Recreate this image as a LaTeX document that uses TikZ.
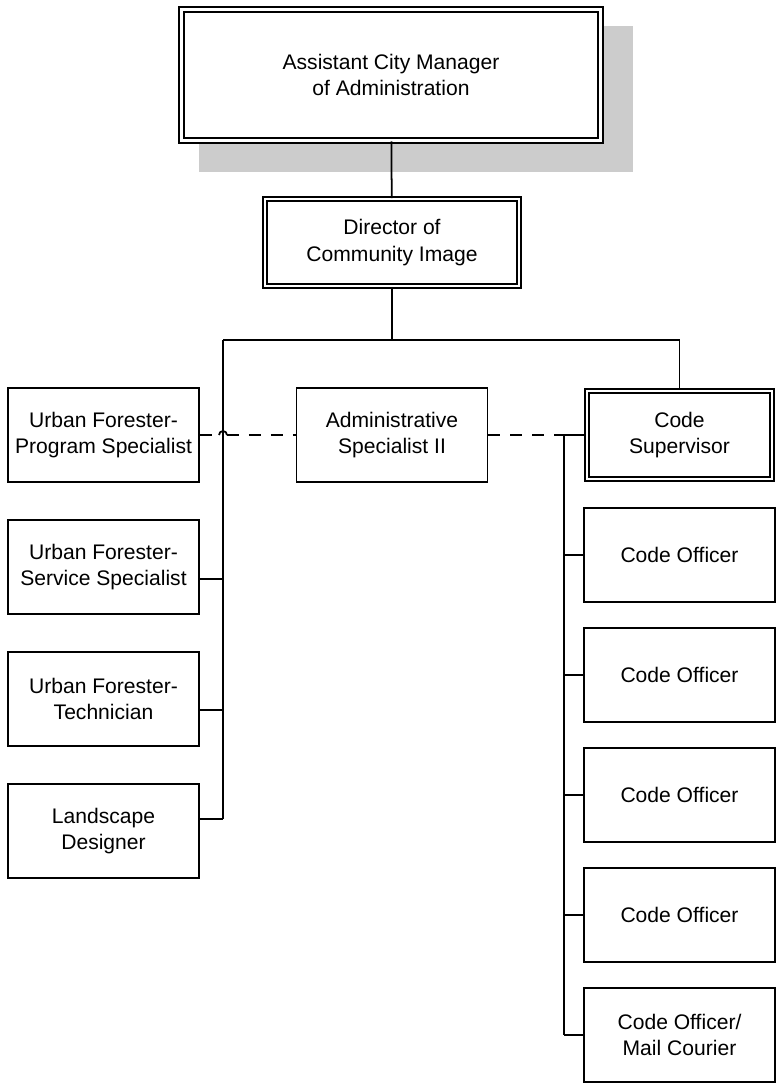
\documentclass[tikz,border=0pt]{standalone}
\usepackage{fontspec}
\setmainfont{Liberation Sans}
\usepackage{tikz}

\begin{document}
\begin{tikzpicture}
  [x=0.02cm,y=-0.02cm,
   every node/.style={draw,line width=1pt,fill=white,inner sep=0pt,align=center,
     minimum width=3.82cm,minimum height=1.88cm,font=\fontsize{12}{15.3}\selectfont},
   dbl/.style={double,line width=1.1pt,double distance=1.3pt}]
  \useasboundingbox (0,0) rectangle (777,1083);

  \fill[black!20] (199,26) rectangle (633,172);
  \node[dbl,minimum width=8.38cm,minimum height=2.62cm] (acm) at (391,75) {Assistant City Manager\\of Administration};
  \node[dbl,minimum width=5.08cm,minimum height=1.74cm] (dir) at (392,242.5) {Director of\\Community Image};

  \node (uf1) at (103.5,435) {Urban Forester-\\Program Specialist};
  \node (uf2) at (103.5,567) {Urban Forester-\\Service Specialist};
  \node (uf3) at (103.5,699) {Urban Forester-\\Technician};
  \node (uf4) at (103.5,831) {Landscape\\Designer};

  \node (adm) at (392,435) {Administrative\\Specialist II};

  \node[dbl,minimum width=3.7cm,minimum height=1.76cm] (cs) at (679.5,435) {Code\\Supervisor};
  \node (co1) at (679.5,555) {Code Officer};
  \node (co2) at (679.5,675) {Code Officer};
  \node (co3) at (679.5,795) {Code Officer};
  \node (co4) at (679.5,915) {Code Officer};
  \node (co5) at (679.5,1035) {Code Officer/\\Mail Courier};

  \coordinate (t) at (392,340);
  \coordinate (lt) at (223,340);
  \coordinate (b2) at (223,579);
  \coordinate (b3) at (223,710);
  \coordinate (b4) at (223,819);
  \coordinate (rb) at (564,435);
  \coordinate (re) at (564,1035);

  \draw[line width=1pt] (acm) -- (dir);
  \draw[line width=1pt] (dir) -- (t);
  \draw[line width=1pt] (lt) -| (cs.north);
  \draw[line width=1pt] (lt) -- (b4);
  \foreach \n/\b in {uf2/b2,uf3/b3,uf4/b4}
    \draw[line width=1pt] (\n.east |- \b) -- (\b);

  \draw[line width=1pt,dash pattern=on 0.24cm off 0.2cm] (uf1.east) -- (219,435);
  \draw[line width=1pt] (219,435) arc[start angle=180,end angle=0,radius=0.08cm];
  \draw[line width=1pt,dash pattern=on 0.24cm off 0.2cm] (227,435) -- (adm.west);
  \draw[line width=1pt,dash pattern=on 0.24cm off 0.2cm] (adm.east) -- (rb);

  \draw[line width=1pt] (rb) -- (cs.west);
  \draw[line width=1pt] (rb) -- (re);
  \foreach \n in {co1,co2,co3,co4,co5}
    \draw[line width=1pt] (\n.west) -- (rb |- \n.west);

\end{tikzpicture}
\end{document}
